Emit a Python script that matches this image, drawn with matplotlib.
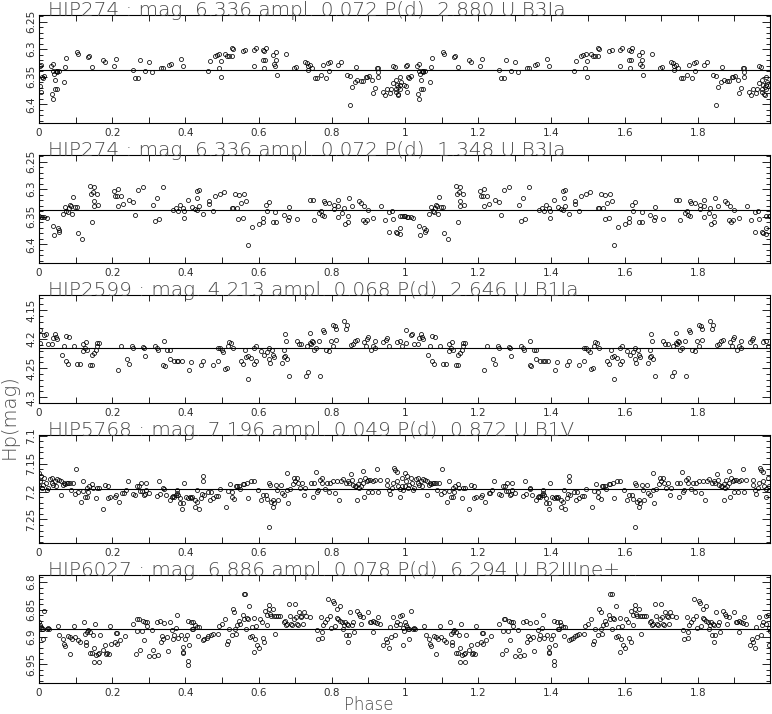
import matplotlib

matplotlib.use("Agg")
import matplotlib.pyplot as plt
from matplotlib.ticker import FixedLocator, FuncFormatter, MultipleLocator

hip274_a = [
    (0.002, 6.330), (0.006, 6.328), (0.003, 6.366), (0.005, 6.377), (0.009, 6.350), (0.012, 6.352),
    (0.015, 6.348), (0.032, 6.330), (0.037, 6.327), (0.039, 6.339), (0.041, 6.345), (0.043, 6.356),
    (0.046, 6.340), (0.048, 6.339), (0.050, 6.341), (0.044, 6.373), (0.048, 6.373), (0.035, 6.381),
    (0.039, 6.390), (0.054, 6.339), (0.069, 6.359), (0.072, 6.333), (0.074, 6.316), (0.103, 6.305),
    (0.107, 6.309), (0.133, 6.314), (0.137, 6.313), (0.144, 6.333), (0.176, 6.319), (0.181, 6.323),
    (0.206, 6.330), (0.210, 6.317), (0.257, 6.338), (0.263, 6.353), (0.270, 6.353), (0.276, 6.319),
    (0.290, 6.340), (0.301, 6.323), (0.308, 6.341), (0.332, 6.334), (0.338, 6.334), (0.355, 6.328),
    (0.361, 6.327), (0.388, 6.317), (0.393, 6.331), (0.461, 6.340), (0.466, 6.322), (0.481, 6.312),
    (0.487, 6.310), (0.493, 6.309), (0.492, 6.334), (0.497, 6.322), (0.497, 6.350), (0.509, 6.309),
    (0.514, 6.312), (0.518, 6.313), (0.526, 6.313), (0.528, 6.297), (0.531, 6.299), (0.558, 6.303),
    (0.564, 6.301), (0.586, 6.331), (0.588, 6.301), (0.593, 6.297), (0.613, 6.301), (0.616, 6.304),
    (0.619, 6.297), (0.613, 6.319), (0.618, 6.319), (0.615, 6.334), (0.640, 6.310), (0.647, 6.306),
    (0.643, 6.327), (0.648, 6.320), (0.646, 6.331), (0.649, 6.346), (0.675, 6.308), (0.697, 6.334),
    (0.703, 6.333), (0.727, 6.323), (0.731, 6.326), (0.734, 6.338), (0.736, 6.331), (0.740, 6.329),
    (0.745, 6.334), (0.753, 6.353), (0.759, 6.353), (0.770, 6.346), (0.775, 6.329), (0.784, 6.353),
    (0.789, 6.326), (0.791, 6.340), (0.795, 6.323), (0.818, 6.329), (0.824, 6.323), (0.841, 6.346),
    (0.850, 6.402), (0.850, 6.348), (0.854, 6.368), (0.866, 6.333), (0.863, 6.360), (0.870, 6.356),
    (0.879, 6.358), (0.886, 6.358), (0.893, 6.351), (0.897, 6.350), (0.901, 6.348), (0.909, 6.356),
    (0.913, 6.379), (0.919, 6.371), (0.923, 6.334), (0.927, 6.334), (0.925, 6.342), (0.927, 6.350),
    (0.939, 6.377), (0.945, 6.384), (0.950, 6.373), (0.959, 6.379), (0.962, 6.373), (0.966, 6.362),
    (0.968, 6.331), (0.973, 6.333), (0.975, 6.356), (0.977, 6.365), (0.975, 6.373), (0.975, 6.377),
    (0.980, 6.382), (0.982, 6.384), (0.982, 6.369), (0.986, 6.373), (0.985, 6.365), (0.986, 6.350),
    (0.989, 6.359), (0.997, 6.365),
]

hip274_b = [
    (0.000, 6.348), (0.005, 6.350), (0.009, 6.350), (0.015, 6.350), (0.021, 6.352), (0.039, 6.366),
    (0.042, 6.384), (0.053, 6.371), (0.056, 6.375), (0.055, 6.378), (0.065, 6.345), (0.071, 6.333),
    (0.075, 6.339), (0.079, 6.341), (0.083, 6.334), (0.085, 6.329), (0.088, 6.331), (0.090, 6.345),
    (0.092, 6.314), (0.097, 6.332), (0.103, 6.333), (0.107, 6.380), (0.118, 6.390), (0.139, 6.294),
    (0.151, 6.296), (0.141, 6.308), (0.148, 6.305), (0.159, 6.308), (0.151, 6.322), (0.151, 6.330),
    (0.162, 6.329), (0.144, 6.359), (0.206, 6.303), (0.217, 6.300), (0.208, 6.313), (0.214, 6.313),
    (0.224, 6.313), (0.217, 6.331), (0.229, 6.327), (0.246, 6.319), (0.257, 6.323), (0.262, 6.346),
    (0.271, 6.301), (0.283, 6.296), (0.311, 6.329), (0.321, 6.316), (0.316, 6.357), (0.328, 6.354),
    (0.338, 6.296), (0.367, 6.337), (0.373, 6.334), (0.379, 6.340), (0.385, 6.329), (0.393, 6.334),
    (0.397, 6.353), (0.395, 6.339), (0.408, 6.319), (0.419, 6.333), (0.425, 6.336), (0.431, 6.303),
    (0.438, 6.302), (0.433, 6.316), (0.437, 6.331), (0.431, 6.337), (0.449, 6.345), (0.464, 6.322),
    (0.464, 6.327), (0.474, 6.339), (0.481, 6.312), (0.495, 6.309), (0.505, 6.306), (0.526, 6.334),
    (0.531, 6.334), (0.535, 6.308), (0.546, 6.311), (0.540, 6.334), (0.545, 6.354), (0.556, 6.353),
    (0.552, 6.326), (0.561, 6.308), (0.565, 6.321), (0.572, 6.402), (0.583, 6.368), (0.602, 6.363),
    (0.613, 6.360), (0.611, 6.353), (0.619, 6.329), (0.629, 6.323), (0.622, 6.340), (0.638, 6.359),
    (0.648, 6.359), (0.646, 6.341), (0.669, 6.346), (0.679, 6.356), (0.684, 6.332), (0.684, 6.350),
    (0.704, 6.355), (0.740, 6.319), (0.749, 6.319), (0.752, 6.356), (0.765, 6.343), (0.770, 6.339),
    (0.772, 6.347), (0.779, 6.348), (0.779, 6.321), (0.781, 6.326), (0.791, 6.326), (0.807, 6.328),
    (0.807, 6.336), (0.816, 6.331), (0.818, 6.319), (0.818, 6.351), (0.829, 6.343), (0.834, 6.334),
    (0.836, 6.363), (0.845, 6.348), (0.845, 6.360), (0.847, 6.316), (0.856, 6.330), (0.873, 6.322),
    (0.880, 6.325), (0.886, 6.356), (0.891, 6.359), (0.895, 6.356), (0.889, 6.331), (0.900, 6.337),
    (0.912, 6.353), (0.934, 6.331), (0.945, 6.356), (0.956, 6.377), (0.956, 6.342), (0.964, 6.339),
    (0.966, 6.354), (0.975, 6.378), (0.978, 6.380), (0.985, 6.382), (0.986, 6.371), (0.986, 6.348),
    (0.993, 6.348), (0.997, 6.348),
]

hip2599 = [
    (0.003, 4.184), (0.003, 4.206), (0.015, 4.193), (0.018, 4.192), (0.025, 4.208), (0.036, 4.208),
    (0.039, 4.198), (0.044, 4.192), (0.046, 4.196), (0.050, 4.200), (0.064, 4.227), (0.069, 4.212),
    (0.073, 4.237), (0.078, 4.242), (0.073, 4.195), (0.082, 4.196), (0.096, 4.212), (0.105, 4.242),
    (0.112, 4.242), (0.119, 4.221), (0.121, 4.208), (0.126, 4.215), (0.128, 4.205), (0.132, 4.218),
    (0.139, 4.245), (0.146, 4.244), (0.144, 4.227), (0.150, 4.224), (0.156, 4.219), (0.158, 4.212),
    (0.159, 4.207), (0.165, 4.207), (0.217, 4.254), (0.223, 4.212), (0.240, 4.235), (0.246, 4.242),
    (0.253, 4.212), (0.258, 4.216), (0.283, 4.214), (0.288, 4.216), (0.290, 4.229), (0.317, 4.211),
    (0.321, 4.216), (0.324, 4.218), (0.342, 4.204), (0.340, 4.245), (0.344, 4.246), (0.351, 4.218),
    (0.358, 4.219), (0.358, 4.235), (0.369, 4.237), (0.376, 4.237), (0.381, 4.237), (0.390, 4.237),
    (0.410, 4.254), (0.415, 4.239), (0.443, 4.244), (0.449, 4.237), (0.476, 4.244), (0.488, 4.237),
    (0.490, 4.216), (0.494, 4.216), (0.499, 4.219), (0.504, 4.223), (0.508, 4.252), (0.513, 4.249),
    (0.515, 4.212), (0.520, 4.205), (0.525, 4.207), (0.531, 4.215), (0.552, 4.238), (0.556, 4.243),
    (0.563, 4.218), (0.572, 4.268), (0.566, 4.231), (0.572, 4.229), (0.578, 4.233), (0.586, 4.242),
    (0.588, 4.216), (0.593, 4.211), (0.593, 4.238), (0.607, 4.221), (0.615, 4.227), (0.622, 4.223),
    (0.627, 4.215), (0.629, 4.234), (0.636, 4.219), (0.638, 4.227), (0.642, 4.230), (0.631, 4.241),
    (0.663, 4.241), (0.669, 4.218), (0.672, 4.191), (0.675, 4.203), (0.668, 4.231), (0.673, 4.229),
    (0.678, 4.235), (0.684, 4.263), (0.704, 4.204), (0.710, 4.208), (0.717, 4.209), (0.730, 4.264),
    (0.736, 4.257), (0.733, 4.211), (0.739, 4.207), (0.742, 4.208), (0.745, 4.203), (0.748, 4.205),
    (0.740, 4.189), (0.751, 4.219), (0.756, 4.215), (0.765, 4.204), (0.768, 4.264), (0.775, 4.184),
    (0.779, 4.187), (0.785, 4.219), (0.791, 4.221), (0.797, 4.204), (0.804, 4.175), (0.809, 4.178),
    (0.811, 4.183), (0.811, 4.201), (0.803, 4.211), (0.834, 4.169), (0.841, 4.175), (0.839, 4.183),
    (0.852, 4.210), (0.859, 4.208), (0.863, 4.204), (0.868, 4.201), (0.888, 4.205), (0.892, 4.212),
    (0.895, 4.200), (0.900, 4.197), (0.907, 4.218), (0.913, 4.212), (0.918, 4.203), (0.918, 4.215),
    (0.941, 4.205), (0.947, 4.202), (0.950, 4.198), (0.956, 4.211), (0.977, 4.205), (0.985, 4.203),
    (0.991, 4.211),
]

hip5768 = [
    (0.001, 7.167), (0.003, 7.182), (0.005, 7.173), (0.001, 7.191), (0.007, 7.194), (0.012, 7.188),
    (0.015, 7.176), (0.018, 7.184), (0.021, 7.197), (0.024, 7.194), (0.030, 7.178), (0.035, 7.184),
    (0.036, 7.176), (0.039, 7.188), (0.044, 7.182), (0.046, 7.191), (0.050, 7.178), (0.055, 7.179),
    (0.059, 7.181), (0.060, 7.206), (0.065, 7.188), (0.069, 7.185), (0.071, 7.187), (0.076, 7.185),
    (0.080, 7.184), (0.085, 7.184), (0.087, 7.197), (0.092, 7.184), (0.101, 7.160), (0.098, 7.204),
    (0.106, 7.200), (0.115, 7.218), (0.119, 7.181), (0.119, 7.199), (0.126, 7.209), (0.132, 7.209),
    (0.135, 7.200), (0.137, 7.190), (0.132, 7.194), (0.145, 7.186), (0.148, 7.194), (0.155, 7.212),
    (0.158, 7.194), (0.165, 7.194), (0.176, 7.232), (0.180, 7.188), (0.189, 7.190), (0.189, 7.212),
    (0.194, 7.209), (0.208, 7.209), (0.210, 7.206), (0.219, 7.218), (0.228, 7.203), (0.233, 7.202),
    (0.237, 7.197), (0.244, 7.182), (0.256, 7.204), (0.262, 7.206), (0.267, 7.190), (0.276, 7.199),
    (0.274, 7.190), (0.279, 7.185), (0.281, 7.199), (0.287, 7.206), (0.290, 7.204), (0.291, 7.184),
    (0.291, 7.197), (0.301, 7.203), (0.322, 7.208), (0.327, 7.182), (0.331, 7.204), (0.340, 7.193),
    (0.342, 7.196), (0.347, 7.206), (0.358, 7.215), (0.364, 7.210), (0.367, 7.208), (0.370, 7.209),
    (0.373, 7.206), (0.376, 7.198), (0.376, 7.202), (0.379, 7.206), (0.384, 7.220), (0.385, 7.211),
    (0.392, 7.232), (0.393, 7.221), (0.396, 7.185), (0.401, 7.210), (0.406, 7.212), (0.413, 7.209),
    (0.415, 7.212), (0.419, 7.209), (0.425, 7.228), (0.426, 7.215), (0.431, 7.218), (0.433, 7.197),
    (0.438, 7.232), (0.443, 7.212), (0.447, 7.173), (0.449, 7.182), (0.444, 7.204), (0.451, 7.206),
    (0.461, 7.200), (0.466, 7.216), (0.469, 7.200), (0.476, 7.212), (0.483, 7.208), (0.488, 7.208),
    (0.495, 7.196), (0.510, 7.228), (0.515, 7.199), (0.522, 7.187), (0.526, 7.210), (0.528, 7.200),
    (0.534, 7.214), (0.539, 7.191), (0.542, 7.190), (0.546, 7.191), (0.549, 7.196), (0.556, 7.187),
    (0.561, 7.186), (0.567, 7.184), (0.572, 7.212), (0.579, 7.182), (0.586, 7.181), (0.599, 7.197),
    (0.607, 7.215), (0.613, 7.206), (0.619, 7.206), (0.622, 7.214), (0.628, 7.184), (0.630, 7.188),
    (0.628, 7.264), (0.633, 7.218), (0.638, 7.227), (0.640, 7.216), (0.643, 7.221), (0.648, 7.188),
    (0.651, 7.198), (0.654, 7.215), (0.661, 7.189), (0.663, 7.203), (0.670, 7.206), (0.678, 7.197),
    (0.681, 7.220), (0.686, 7.196), (0.677, 7.167), (0.693, 7.187), (0.697, 7.176), (0.700, 7.182),
    (0.704, 7.175), (0.707, 7.185), (0.713, 7.194), (0.719, 7.184), (0.724, 7.206), (0.727, 7.194),
    (0.743, 7.185), (0.748, 7.210), (0.751, 7.184), (0.756, 7.166), (0.760, 7.200), (0.763, 7.198),
    (0.768, 7.179), (0.772, 7.176), (0.774, 7.184), (0.781, 7.195), (0.786, 7.184), (0.791, 7.200),
    (0.795, 7.185), (0.802, 7.182), (0.809, 7.202), (0.813, 7.181), (0.820, 7.215), (0.825, 7.182),
    (0.831, 7.178), (0.839, 7.184), (0.843, 7.182), (0.848, 7.185), (0.852, 7.169), (0.856, 7.179),
    (0.859, 7.188), (0.863, 7.191), (0.866, 7.191), (0.870, 7.216), (0.871, 7.186), (0.873, 7.194),
    (0.877, 7.179), (0.879, 7.191), (0.885, 7.185), (0.886, 7.163), (0.889, 7.210), (0.891, 7.176),
    (0.895, 7.182), (0.898, 7.179), (0.900, 7.200), (0.904, 7.179), (0.909, 7.200), (0.913, 7.181),
    (0.918, 7.179), (0.923, 7.160), (0.927, 7.200), (0.932, 7.179), (0.950, 7.179), (0.951, 7.188),
    (0.955, 7.197), (0.959, 7.204), (0.964, 7.194), (0.966, 7.184), (0.970, 7.158), (0.973, 7.162),
    (0.977, 7.166), (0.979, 7.182), (0.981, 7.190), (0.986, 7.196), (0.986, 7.210), (0.991, 7.176),
    (0.993, 7.191), (0.995, 7.197),
]

hip6027 = [
    (0.000, 6.873), (0.003, 6.879), (0.005, 6.882), (0.007, 6.885), (0.010, 6.904), (0.012, 6.886),
    (0.015, 6.852), (0.021, 6.885), (0.025, 6.884), (0.028, 6.886), (0.053, 6.880), (0.056, 6.896),
    (0.066, 6.904), (0.069, 6.912), (0.071, 6.917), (0.080, 6.898), (0.085, 6.932), (0.085, 6.900),
    (0.089, 6.904), (0.096, 6.880), (0.098, 6.900), (0.107, 6.906), (0.112, 6.909), (0.123, 6.873),
    (0.126, 6.894), (0.128, 6.909), (0.128, 6.915), (0.132, 6.891), (0.135, 6.888), (0.139, 6.891),
    (0.139, 6.930), (0.144, 6.930), (0.147, 6.897), (0.150, 6.921), (0.151, 6.946), (0.153, 6.876),
    (0.156, 6.933), (0.160, 6.932), (0.165, 6.946), (0.165, 6.930), (0.167, 6.897), (0.176, 6.924),
    (0.180, 6.915), (0.183, 6.932), (0.185, 6.929), (0.192, 6.932), (0.194, 6.880), (0.197, 6.912),
    (0.208, 6.909), (0.210, 6.892), (0.214, 6.892), (0.214, 6.912), (0.221, 6.906), (0.235, 6.898),
    (0.258, 6.876), (0.265, 6.932), (0.269, 6.867), (0.267, 6.890), (0.274, 6.867), (0.276, 6.923),
    (0.281, 6.890), (0.283, 6.870), (0.287, 6.906), (0.290, 6.873), (0.294, 6.880), (0.296, 6.873),
    (0.301, 6.935), (0.308, 6.888), (0.311, 6.923), (0.314, 6.935), (0.321, 6.873), (0.326, 6.933),
    (0.331, 6.870), (0.332, 6.910), (0.335, 6.898), (0.340, 6.904), (0.342, 6.874), (0.349, 6.900),
    (0.352, 6.926), (0.358, 6.873), (0.362, 6.888), (0.366, 6.904), (0.369, 6.896), (0.374, 6.884),
    (0.376, 6.860), (0.379, 6.902), (0.387, 6.896), (0.393, 6.927), (0.393, 6.918), (0.394, 6.929),
    (0.399, 6.904), (0.404, 6.897), (0.408, 6.944), (0.408, 6.952), (0.410, 6.915), (0.408, 6.870),
    (0.414, 6.873), (0.417, 6.885), (0.420, 6.885), (0.422, 6.873), (0.426, 6.879), (0.431, 6.881),
    (0.435, 6.898), (0.437, 6.882), (0.447, 6.906), (0.452, 6.904), (0.458, 6.902), (0.463, 6.898),
    (0.469, 6.896), (0.476, 6.894), (0.491, 6.880), (0.490, 6.894), (0.499, 6.877), (0.508, 6.868),
    (0.513, 6.912), (0.515, 6.908), (0.520, 6.885), (0.526, 6.896), (0.529, 6.849), (0.534, 6.854),
    (0.536, 6.885), (0.537, 6.894), (0.542, 6.879), (0.546, 6.870), (0.549, 6.877), (0.556, 6.860),
    (0.561, 6.821), (0.564, 6.821), (0.561, 6.867), (0.565, 6.885), (0.567, 6.866), (0.572, 6.867),
    (0.575, 6.843), (0.576, 6.900), (0.581, 6.898), (0.583, 6.881), (0.586, 6.866), (0.587, 6.927),
    (0.590, 6.904), (0.595, 6.915), (0.593, 6.880), (0.601, 6.920), (0.604, 6.868), (0.610, 6.872),
    (0.613, 6.902), (0.616, 6.909), (0.617, 6.852), (0.622, 6.860), (0.624, 6.879), (0.627, 6.841),
    (0.629, 6.849), (0.631, 6.858), (0.633, 6.862), (0.639, 6.849), (0.643, 6.862), (0.645, 6.894),
    (0.648, 6.861), (0.654, 6.862), (0.658, 6.862), (0.669, 6.873), (0.672, 6.870), (0.675, 6.879),
    (0.678, 6.876), (0.684, 6.840), (0.686, 6.862), (0.689, 6.876), (0.691, 6.879), (0.697, 6.867),
    (0.699, 6.840), (0.701, 6.864), (0.704, 6.876), (0.707, 6.879), (0.711, 6.855), (0.715, 6.862),
    (0.717, 6.864), (0.722, 6.876), (0.724, 6.855), (0.730, 6.862), (0.740, 6.864), (0.759, 6.888),
    (0.761, 6.903), (0.770, 6.864), (0.772, 6.891), (0.772, 6.902), (0.777, 6.879), (0.781, 6.873),
    (0.786, 6.867), (0.790, 6.831), (0.795, 6.861), (0.798, 6.884), (0.804, 6.835), (0.807, 6.838),
    (0.809, 6.880), (0.813, 6.866), (0.815, 6.849), (0.818, 6.867), (0.821, 6.843), (0.822, 6.870),
    (0.827, 6.872), (0.830, 6.885), (0.832, 6.879), (0.836, 6.873), (0.839, 6.897), (0.841, 6.877),
    (0.844, 6.909), (0.845, 6.879), (0.848, 6.897), (0.850, 6.855), (0.854, 6.879), (0.857, 6.873),
    (0.861, 6.891), (0.868, 6.852), (0.873, 6.858), (0.877, 6.861), (0.880, 6.877), (0.886, 6.864),
    (0.900, 6.855), (0.903, 6.872), (0.907, 6.872), (0.912, 6.870), (0.913, 6.891), (0.918, 6.872),
    (0.923, 6.874), (0.927, 6.864), (0.932, 6.877), (0.941, 6.915), (0.947, 6.904), (0.950, 6.910),
    (0.955, 6.920), (0.959, 6.882), (0.961, 6.900), (0.966, 6.864), (0.973, 6.897), (0.975, 6.879),
    (0.979, 6.873), (0.985, 6.861), (0.986, 6.876), (0.991, 6.860), (0.994, 6.915), (0.995, 6.884),
    (0.998, 6.889),
]

titles = [
    "HIP274 : mag. 6.336 ampl. 0.072 P(d)  2.880 U B3Ia",
    "HIP274 : mag. 6.336 ampl. 0.072 P(d)  1.348 U B3Ia",
    "HIP2599 : mag. 4.213 ampl. 0.068 P(d)  2.646 U B1Ia",
    "HIP5768 : mag. 7.196 ampl. 0.049 P(d)  0.872 U B1V",
    "HIP6027 : mag. 6.886 ampl. 0.078 P(d)  6.294 U B2IIIne+...",
]
series = [hip274_a, hip274_b, hip2599, hip5768, hip6027]
mean_levels = [6.337, 6.337, 4.216, 7.196, 6.885]
y_ranges = [(6.434, 6.238), (6.434, 6.238), (4.310, 4.124), (7.292, 7.099), (6.984, 6.787)]

FONT = ["DejaVu Sans"]
INK = "#2e2e2e"
LABEL_INK = "#4a4a4a"
W, H = 772, 714

fig = plt.figure(figsize=(W / 100, H / 100), dpi=100)

for i, (title, pts, level, ylim) in enumerate(zip(titles, series, mean_levels, y_ranges)):
    top = 15 + 140 * i
    ax = fig.add_axes([39 / W, 1 - (top + 108) / H, 731 / W, 108 / H])
    phase = [p for p, _ in pts]
    mag = [m for _, m in pts]
    ax.plot(phase + [p + 1 for p in phase], mag + mag, "o", ms=2.9, mfc="none",
            mec="black", mew=0.55, ls="none")
    ax.axhline(level, color="black", lw=0.8)
    ax.set_xlim(0, 1.997)
    ax.set_ylim(*ylim)

    ax.xaxis.set_major_locator(FixedLocator([0, 0.2, 0.4, 0.6, 0.8, 1, 1.2, 1.4, 1.6, 1.8]))
    ax.xaxis.set_minor_locator(MultipleLocator(0.1))
    ax.yaxis.set_major_locator(MultipleLocator(0.05))
    ax.yaxis.set_minor_locator(MultipleLocator(0.01))
    fmt = FuncFormatter(lambda v, _: f"{v:.2f}".rstrip("0").rstrip("."))
    ax.xaxis.set_major_formatter(fmt)
    ax.yaxis.set_major_formatter(fmt)
    ax.tick_params(which="both", direction="in", top=True, right=True, width=0.6,
                   color="black")
    ax.tick_params(axis="x", which="both", length=4, pad=3.5, labelsize=7.5, labelcolor=INK)
    ax.tick_params(axis="y", which="major", length=6, pad=2, labelsize=7.5,
                   labelcolor=INK, labelrotation=90)
    ax.tick_params(axis="y", which="minor", length=3)
    for lbl in ax.get_xticklabels() + ax.get_yticklabels():
        lbl.set_family(FONT)
    for lbl in ax.get_yticklabels():
        lbl.set_va("center")
    for spine in ax.spines.values():
        spine.set_linewidth(0.8)

    ax.text(0.012, 0.995, title, transform=ax.transAxes, va="baseline", ha="left",
            fontsize=14.4, color=LABEL_INK, family=FONT, fontweight="light")

fig.text(9 / W, 1 - 417 / H, "Hp(mag)", rotation=90, ha="center", va="center",
         fontsize=14, color=LABEL_INK, family=FONT, fontweight="light")
fig.text(369 / W, 0.5 / H, "Phase", ha="center", va="bottom",
         fontsize=12, color=LABEL_INK, family=FONT, fontweight="light")

fig.savefig("out.png", dpi=100)
plt.close(fig)
